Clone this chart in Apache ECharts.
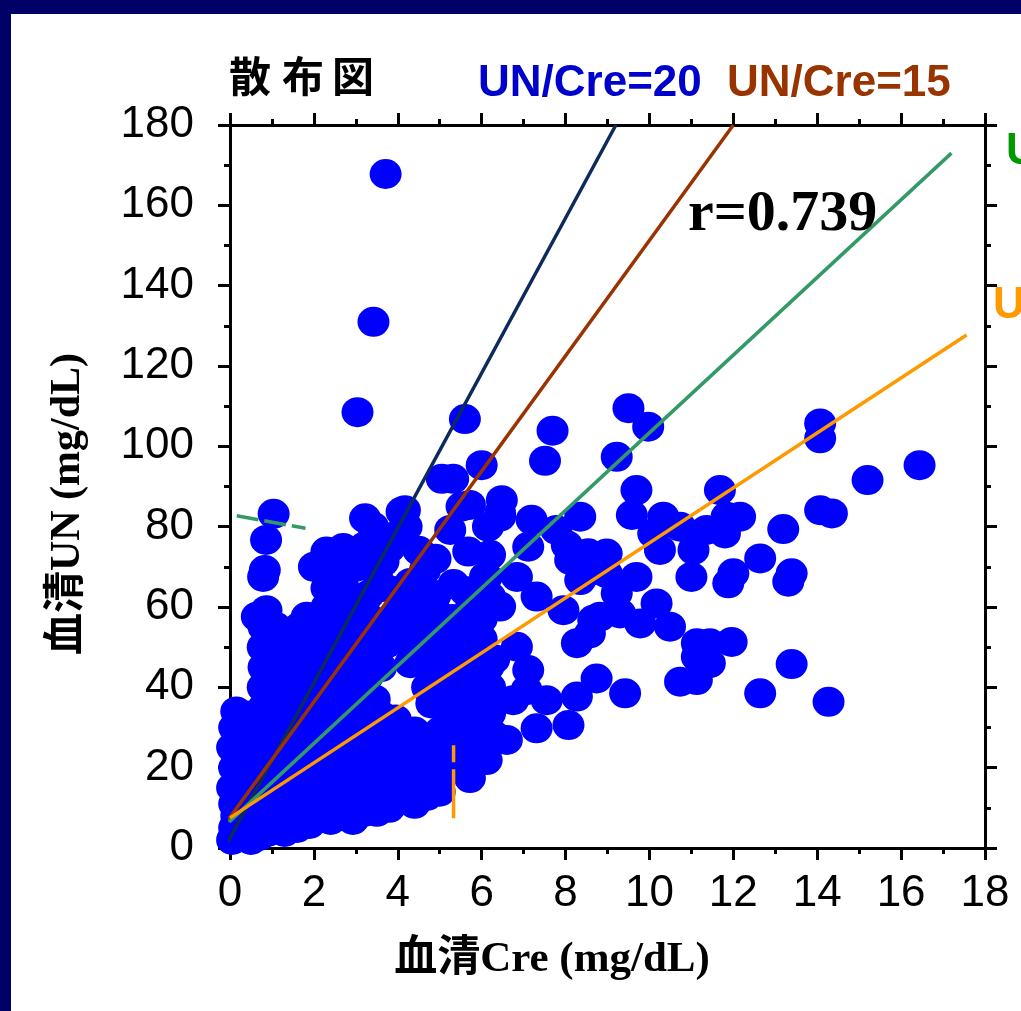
<!DOCTYPE html>
<html><head><meta charset="utf-8">
<script src="https://cdn.jsdelivr.net/npm/echarts@6/dist/echarts.min.js"></script>
<style>html,body{margin:0;padding:0;background:#fff}#c{width:1021px;height:1011px}</style>
</head><body><div id="c"></div>
<script>
// ---- data (x = 血清Cre mg/dL, y = 血清UN mg/dL) ----
const outlierPoints = [[3.71,167.8],[3.42,131],[3.04,108.5],[5.6,106.8],[9.5,109.5],[9.97,104.9],[7.69,103.9],[7.51,96.4],[9.22,97.4],[6.0,95.3],[14.07,105.7],[14.07,102.0],[16.44,95.3],[15.2,91.6]];
const middlePoints = [[9.69,89.1],[9.58,82.9],[11.68,89.1],[11.84,82.5],[12.16,82.5],[10.33,82.5],[10.09,78.3],[10.25,74.2],[11.05,74.2],[11.36,79.2],[10.73,80],[11.8,78.3],[13.19,79.4],[12.64,72.1],[12.0,68.4],[11.88,65.9],[13.39,68.4],[13.31,66.3],[11.0,67.5],[9.69,67.5],[6.48,86.6],[6.44,82.5],[7.19,81.7],[7.11,75],[7.78,79.2],[8.35,82.5],[8.03,75.4],[8.54,73.4],[8.98,73.3],[8.11,71.7],[8.70,69.2],[8.35,66.7],[8.98,68.4],[9.22,63.4],[7.31,62.6],[6.84,67.5],[6.12,67.5],[6.44,60.1],[7.95,59.2],[8.66,56.8],[9.30,58.4],[8.82,57.6],[10.17,60.9],[10.49,55.1],[9.78,55.9],[8.27,51],[8.58,53.4],[11.13,51],[11.44,51],[11.96,51.3],[11.13,47.6],[11.44,46],[10.73,41.4],[11.13,41.8],[9.42,38.5],[12.64,38.5],[8.74,42.2],[8.27,37.7],[8.07,30.6],[7.31,29.8],[7.11,44.3],[7.07,39.3],[7.55,36.8],[6.84,50.1],[6.16,45.1],[6.2,37.7],[6.6,26.9],[6.2,33.5],[6.12,21.9],[6.75,36.8],[13.39,45.8],[14.27,36.4],[14.07,84.1],[14.35,83.3]];
const denseLeftPoints = [[0.05,2],[0.1,5],[0.2,3],[0.15,8],[0.3,6],[0.1,11],[0.25,12],[0.4,9],[0.05,15],[0.2,17],[0.35,15],[0.1,20],[0.3,21],[0.05,25],[0.2,26],[0.35,24],[0.1,30],[0.3,31],[0.15,34],[0.45,28],
 [0.5,2],[0.7,3],[0.6,6],[0.9,4],[1.1,6],[0.55,12],[0.8,10],[1.05,11],[0.6,17],[0.85,16],[1.1,18],[0.5,22],[0.75,22],[1.0,24],[0.6,28],[0.9,29],[1.15,30],[0.5,33],[0.8,35],[1.05,36],[0.78,40],[0.95,41],[0.8,45],[1.0,46],[0.78,50],[0.95,52],[0.8,55],[1.1,55],[0.64,57.6],[0.8,58],[0.87,59.2],
 [0.79,67.5],[0.83,69.2],[0.86,76.7],[1.04,83.2],
 [1.3,4],[1.6,5],[1.9,6],[1.35,9],[1.7,10],[1.25,14],[1.55,15],[1.85,13],[1.4,20],[1.7,19],[1.95,20],[1.3,25],[1.6,26],[1.9,27],[1.4,31],[1.75,33],[1.3,37],[1.6,38],[1.9,39],[1.4,43],[1.75,44],[1.3,48],[1.6,49],[1.95,48],[1.4,53],[1.19,52.5],[1.83,57.6],[1.65,55]];
const denseMidPoints = [[2.1,8],[2.4,7],[2.7,8],[2.93,7],[3.2,9],[3.5,9],[3.8,10],[2.2,13],[2.5,12],[2.8,14],[3.1,13],[3.4,15],[3.7,14],[4.0,15],[2.15,18],[2.45,19],[2.75,20],[3.05,18],[3.35,21],[3.65,20],[3.95,21],[2.3,24],[2.6,25],[2.9,26],[3.2,24],[3.5,27],[3.8,26],[2.1,30],[2.4,31],[2.7,30],[3.0,32],[3.3,31],[3.6,33],[3.95,32],[2.25,36],[2.55,37],[2.85,36],[3.15,38],[3.45,37],[2.1,42],[2.4,43],[2.7,42],[3.0,44],[3.3,43],[3.6,45],[2.25,48],[2.55,49],[2.85,50],[3.15,48],[3.45,50],[3.75,51],[2.15,54],[2.45,55],[2.75,56],[3.05,55],[3.35,57],[3.65,56],[3.95,58],[2.3,60],[2.6,62],[2.3,64.7],[2.7,65],[3.5,68.5],[3.65,65],[3.0,62],[3.3,63],[2.3,73.8],[2.7,74.7],[3.22,82.1],[3.81,74.7],[3.66,71.3],[3.41,80],[3.89,77.5],[2.0,70],[2.5,70],[3.0,70],[3.2,75]];
const denseRightPoints = [[4.1,12],[4.4,11],[4.7,13],[5.0,14],[4.2,17],[4.5,18],[4.8,17],[5.1,19],[5.4,20],[4.3,23],[4.6,24],[4.9,23],[5.5,24],[5.8,26],[6.1,27],[4.1,28],[4.4,29],[5.0,29],[5.3,31],[5.6,30],[5.9,29],[6.3,28],[4.8,36],[5.1,35],[5.4,37],[5.7,34],[6.0,35],[4.7,40],[5.0,42],[5.3,41],[5.6,43],[5.9,40],[4.3,46],[4.6,47],[4.9,45],[5.2,48],[5.5,47],[5.8,49],[4.1,52],[4.45,53],[4.75,54],[5.09,51.8],[5.4,53],[5.7,54],[6.0,52],[4.2,58],[4.45,61.3],[4.93,58.5],[5.72,59.2],[6.2,62.6],[5.3,57],[4.65,69.2],[5.33,65.7],[6.08,67.5],[4.0,64],[4.3,66],[4.9,63],[5.6,64],[4.17,84.1],[4.09,83.7],[4.21,80],[5.25,79.2],[5.68,73.8],[5.52,85],[5.05,91.9],[5.32,91.9],[5.72,85.4],[6.15,80],[6.44,83.4],[4.5,74],[4.9,72],[6.2,73],[6.0,57],[6.3,47],[6.2,40],[5.72,17.4]];
// reference lines (UN/Cre ratios) and marks
const ratio20Line = [[-0.05,1.5],[9.2,180]];
const ratio15Line = [[-0.08,6.5],[12.0,180]];
const ratio10Line = [[-0.02,6.5],[17.2,173]];
const ratio7Line = [[0.0,7.5],[17.56,127.7]];
const greenDash = [[0.16,82.7],[1.80,79.6]];
const orangeDash = [[5.33,25.6],[5.33,7.4]];
const xTickLabels = ['0','2','4','6','8','10','12','14','16','18'];
const yTickLabels = ['0','20','40','60','80','100','120','140','160','180'];

const chart = echarts.init(document.getElementById('c'), null, {renderer:'canvas'});
const axisLineStyle = {color:'#000', width:3};
function xAxisCfg(pos, showLabel){
  return {type:'value', min:0, max:18, interval:2, position:pos,
    axisLine:{show:true, onZero:false, lineStyle:axisLineStyle},
    axisTick:{show:true, inside:false, length:12, lineStyle:{color:'#000', width:3}},
    minorTick:{show:true, splitNumber:2, length:6, lineStyle:{color:'#000', width:3}},
    splitLine:{show:false}, minorSplitLine:{show:false},
    axisLabel:{show:showLabel, fontSize:44, color:'#000', fontFamily:'Liberation Sans', margin:24,
      formatter:v=>xTickLabels[Math.round(v/2)]}};
}
function yAxisCfg(pos, showLabel){
  return {type:'value', min:0, max:180, interval:20, position:pos,
    axisLine:{show:true, onZero:false, lineStyle:axisLineStyle},
    axisTick:{show:true, inside:false, length:12, lineStyle:{color:'#000', width:3}},
    minorTick:{show:true, splitNumber:2, length:6, lineStyle:{color:'#000', width:3}},
    splitLine:{show:false}, minorSplitLine:{show:false},
    axisLabel:{show:showLabel, fontSize:44, color:'#000', fontFamily:'Liberation Sans', margin:36,
      formatter:v=>yTickLabels[Math.round(v/20)]}};
}
function refLine(data, color, type){
  return {type:'line', data:data, symbol:'none', clip:false, silent:true, z:5,
    lineStyle:{color:color, width:3.5, type:type||'solid'}};
}
const allPoints = outlierPoints.concat(middlePoints, denseLeftPoints, denseMidPoints, denseRightPoints);
const option = {
  animation:false,
  backgroundColor:'#ffffff',
  grid:{left:230, right:36, top:125, bottom:163, containLabel:false},
  xAxis:[xAxisCfg('bottom', true), xAxisCfg('top', false)],
  yAxis:[yAxisCfg('left', true), yAxisCfg('right', false)],
  series:[
    {type:'scatter', data:allPoints, symbol:'circle', symbolSize:[32,30], clip:false,
      itemStyle:{color:'#0000ff', opacity:1}, z:2},
    refLine(ratio20Line, '#0d2a5c'),
    refLine(ratio15Line, '#993300'),
    refLine(ratio10Line, '#339966'),
    refLine(ratio7Line, '#ff9900'),
    refLine(greenDash, '#339966', [22,6]),
    refLine(orangeDash, '#ff9900', [17,7,60])
  ],
  graphic:[
    {type:'rect', shape:{x:0,y:0,width:11,height:1011}, style:{fill:'#000066'}, z:100},
    {type:'rect', shape:{x:0,y:0,width:1021,height:14}, style:{fill:'#000066'}, z:100},
    {type:'text', x:229, y:76, style:{text:'散', font:'bold 42px "Noto Sans CJK JP"', fill:'#000', textVerticalAlign:'middle'}},
    {type:'text', x:282, y:76, style:{text:'布', font:'bold 42px "Noto Sans CJK JP"', fill:'#000', textVerticalAlign:'middle'}},
    {type:'text', x:332, y:76, style:{text:'図', font:'bold 42px "Noto Sans CJK JP"', fill:'#000', textVerticalAlign:'middle'}},
    {type:'text', x:478, y:84, style:{text:'UN/Cre=20', font:'bold 44px "Liberation Sans"', fill:'#0000cc', textVerticalAlign:'middle'}},
    {type:'text', x:727, y:84, style:{text:'UN/Cre=15', font:'bold 44px "Liberation Sans"', fill:'#993300', textVerticalAlign:'middle'}},
    {type:'text', x:1006, y:152, style:{text:'UN/Cre=10', font:'bold 44px "Liberation Sans"', fill:'#009900', textVerticalAlign:'middle'}},
    {type:'text', x:993, y:306, style:{text:'UN/Cre=7', font:'bold 44px "Liberation Sans"', fill:'#ff9900', textVerticalAlign:'middle'}},
    {type:'text', x:688, y:215, z:10, style:{text:'r=0.739', font:'bold 58px "Liberation Serif"', fill:'#000', textVerticalAlign:'middle'}},
    {type:'text', x:552, y:960, style:{text:'血清Cre (mg/dL)', font:'bold 43px "Liberation Serif", "Noto Sans CJK JP"', fill:'#000', textAlign:'center', textVerticalAlign:'middle'}},
    {type:'text', x:68, y:504, rotation:Math.PI/2, style:{text:'血清UN (mg/dL)', font:'bold 42px "Liberation Serif", "Noto Sans CJK JP"', fill:'#000', textAlign:'center', textVerticalAlign:'middle'}}
  ]
};
chart.setOption(option);
</script></body></html>
